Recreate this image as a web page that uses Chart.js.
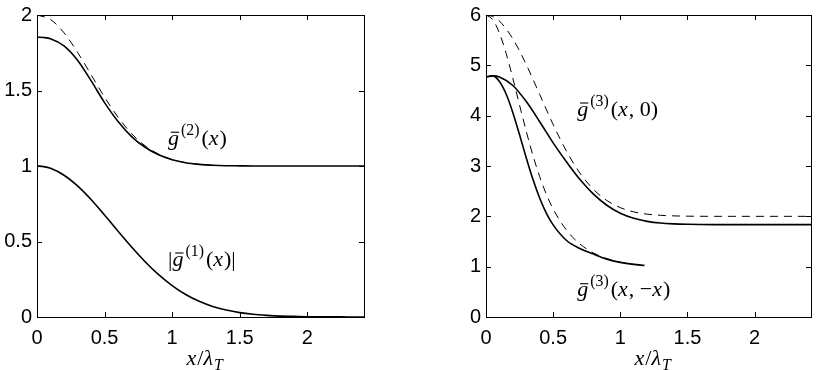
<!DOCTYPE html>
<html>
<head>
<meta charset="utf-8">
<script src="https://cdn.jsdelivr.net/npm/chart.js@4.4.0/dist/chart.umd.min.js"></script>
<style>
body { margin: 0; background: #fff; width: 817px; height: 370px; overflow: hidden; position: relative; }
canvas { position: absolute; top: 0; }
#left { left: 0; }
#right { left: 449px; }
</style>
</head>
<body>
<canvas id="left" width="380" height="370"></canvas>
<canvas id="right" width="368" height="370"></canvas>
<script>
// left panel: first and second order correlations
const xLeft = [0, 0.05, 0.1, 0.2, 0.3, 0.4, 0.5, 0.6, 0.7, 0.8, 0.9, 1.0, 1.1, 1.2, 1.3, 1.4, 1.5, 1.6, 1.7, 1.8, 1.9, 2.0, 2.1, 2.2, 2.3, 2.4, 2.42];
const g1Abs  = [1.0, 0.996, 0.985, 0.939, 0.868, 0.778, 0.675, 0.568, 0.463, 0.366, 0.280, 0.208, 0.149, 0.104, 0.070, 0.046, 0.029, 0.018, 0.011, 0.006, 0.004, 0.002, 0.001, 0.001, 0, 0, 0];
const g2Meas = [1.853, 1.851, 1.843, 1.795, 1.70, 1.565, 1.42, 1.295, 1.195, 1.124, 1.074, 1.042, 1.022, 1.011, 1.005, 1.002, 1.001, 1, 1, 1, 1, 1, 1, 1, 1, 1, 1];
const xLeftIdeal = [0, 0.1, 0.2, 0.3, 0.4, 0.5, 0.6, 0.7, 0.8, 0.9, 1.0, 1.1, 1.2, 1.3];
const g2Ideal    = [2.0, 1.970, 1.882, 1.753, 1.605, 1.456, 1.323, 1.214, 1.134, 1.078, 1.043, 1.022, 1.011, 1.005];

// right panel: third order correlations
const xRight = [0, 0.05, 0.1, 0.2, 0.3, 0.4, 0.5, 0.6, 0.7, 0.8, 0.9, 1.0, 1.1, 1.2, 1.3, 1.4, 1.5, 1.6, 1.7, 1.8, 1.9, 2.0, 2.1, 2.2, 2.3, 2.4, 2.42];
const g3x0Ideal = [6.0, 5.97, 5.880, 5.527, 5.014, 4.42, 3.824, 3.291, 2.857, 2.536, 2.314, 2.173, 2.089, 2.043, 2.020, 2.009, 2.003, 2.001, 2, 2, 2, 2, 2, 2, 2, 2, 2];
const g3x0Meas  = [4.77, 4.79, 4.77, 4.60, 4.28, 3.88, 3.46, 3.08, 2.73, 2.44, 2.22, 2.06, 1.96, 1.90, 1.866, 1.85, 1.842, 1.838, 1.836, 1.836, 1.836, 1.836, 1.836, 1.836, 1.836, 1.836, 1.836];
const xMinus = [0, 0.05, 0.1, 0.15, 0.2, 0.25, 0.3, 0.35, 0.4, 0.45, 0.5, 0.6, 0.7, 0.8, 0.9, 1.0, 1.1, 1.18];
const g3mxIdeal = [6.0, 5.907, 5.64, 5.235, 4.741, 4.209, 3.688, 3.206, 2.787, 2.434, 2.145, 1.724, 1.45, 1.273, 1.16, 1.087, 1.045, 1.026];
const g3mxMeas  = [4.77, 4.79, 4.68, 4.43, 4.06, 3.62, 3.16, 2.73, 2.36, 2.06, 1.83, 1.52, 1.36, 1.25, 1.15, 1.085, 1.045, 1.025];

const xTicksStep = 0.5;
const xMax = 2.42;

function pts(xs, ys) {
    return xs.map((x, i) => ({x: x, y: ys[i]}));
}

// tiny math typesetter: g with bar, superscripts, subscripts, italics
function drawMath(ctx, x, y, parts, size) {
    ctx.fillStyle = '#000';
    ctx.textBaseline = 'alphabetic';
    ctx.textAlign = 'left';
    for (const [t, st] of parts) {
        let fs = size, dy = 0;
        if (st === 's') { fs = size * 0.72; dy = -size * 0.45; }
        if (st === 'sub') { fs = size * 0.72; dy = size * 0.22; }
        const italic = (st === 'i' || st === 'g' || st === 'sub');
        ctx.font = (italic ? 'italic ' : '') + fs + 'px "Liberation Serif", "DejaVu Serif", serif';
        ctx.fillText(t, x, y + dy);
        const w = ctx.measureText(t).width;
        if (st === 'g') {
            ctx.fillRect(x + w * 0.25, y - size * 0.6, w * 0.75, 1.1);
            x += 2;
        }
        if (st === 's') x += 2;
        if (st === 'i') x += 1;
        x += w;
    }
}

const framePlugin = {
    id: 'frame',
    afterDraw(chart) {
        const ctx = chart.ctx;
        const a = chart.chartArea;
        const xs = chart.scales.x, ys = chart.scales.y;
        ctx.save();
        ctx.strokeStyle = '#000';
        ctx.lineWidth = 1;
        ctx.strokeRect(Math.round(a.left) + 0.5, Math.round(a.top) + 0.5, Math.round(a.right - a.left), Math.round(a.bottom - a.top));
        ctx.beginPath();
        xs.ticks.forEach(t => {
            const px = Math.round(xs.getPixelForValue(t.value)) + 0.5;
            ctx.moveTo(px, a.bottom); ctx.lineTo(px, a.bottom - 5);
            ctx.moveTo(px, a.top); ctx.lineTo(px, a.top + 5);
        });
        ys.ticks.forEach(t => {
            const py = Math.round(ys.getPixelForValue(t.value)) + 0.5;
            ctx.moveTo(a.left, py); ctx.lineTo(a.left + 5, py);
            ctx.moveTo(a.right, py); ctx.lineTo(a.right - 5, py);
        });
        ctx.stroke();

        const labels = chart.options.plugins.frame.labels || [];
        labels.forEach(l => {
            drawMath(ctx, xs.getPixelForValue(l.x), ys.getPixelForValue(l.y), l.parts, 22);
        });
        // axis title x / lambda_T
        const cx = (a.left + a.right) / 2 - 14;
        drawMath(ctx, cx, 365, [['x', 'i'], ['/', 'r'], ['λ', 'i'], ['T', 'sub']], 22);
        ctx.restore();
    }
};

function makeChart(id, datasets, yMax, yStep, padRight, labels) {
    const tickFont = {family: '"Liberation Sans", Arial, sans-serif', size: 20, lineHeight: 1};
    return new Chart(document.getElementById(id), {
        type: 'line',
        data: {datasets: datasets},
        options: {
            responsive: false,
            animation: false,
            devicePixelRatio: 1,
            layout: {padding: {left: 0, top: 10, right: padRight, bottom: 0}},
            elements: {point: {radius: 0}, line: {cubicInterpolationMode: 'monotone', borderColor: '#000'}},
            plugins: {legend: {display: false}, tooltip: {enabled: false}, frame: {labels: labels}},
            scales: {
                x: {
                    type: 'linear', min: 0, max: xMax,
                    afterFit(s) { s.height = 53; },
                    grid: {display: false, drawTicks: false},
                    border: {display: false},
                    ticks: {stepSize: xTicksStep, includeBounds: false, color: '#000', font: tickFont, padding: 11, maxRotation: 0, autoSkip: false,
                        callback: v => String(v)}
                },
                y: {
                    min: 0, max: yMax,
                    afterFit(s) { s.width = 37; },
                    grid: {display: false, drawTicks: false},
                    border: {display: false},
                    ticks: {stepSize: yStep, color: '#000', font: tickFont, padding: 5, callback: v => String(v)}
                }
            }
        },
        plugins: [framePlugin]
    });
}

makeChart('left', [
    {data: pts(xLeftIdeal, g2Ideal), borderWidth: 1, borderDash: [8, 6], borderColor: '#000'},
    {data: pts(xLeft, g2Meas), borderWidth: 1.6, borderColor: '#000'},
    {data: pts(xLeft, g1Abs), borderWidth: 1.6, borderColor: '#000'}
], 2, 0.5, 16, [
    {x: 0.97, y: 1.14, parts: [['g', 'g'], ['(2)', 's'], ['(', 'r'], ['x', 'i'], [')', 'r']]},
    {x: 0.97, y: 0.34, parts: [['|', 'r'], ['g', 'g'], ['(1)', 's'], ['(', 'r'], ['x', 'i'], [')', 'r'], ['|', 'r']]}
]);

makeChart('right', [
    {data: pts(xRight, g3x0Ideal), borderWidth: 1, borderDash: [8, 6], borderColor: '#000'},
    {data: pts(xMinus, g3mxIdeal), borderWidth: 1, borderDash: [8, 6], borderColor: '#000'},
    {data: pts(xRight, g3x0Meas), borderWidth: 1.6, borderColor: '#000'},
    {data: pts(xMinus, g3mxMeas), borderWidth: 1.6, borderColor: '#000'}
], 6, 1, 6, [
    {x: 0.68, y: 4.0, parts: [['g', 'g'], ['(3)', 's'], ['(', 'r'], ['x', 'i'], [', 0)', 'r']]},
    {x: 0.68, y: 0.41, parts: [['g', 'g'], ['(3)', 's'], ['(', 'r'], ['x', 'i'], [', −', 'r'], ['x', 'i'], [')', 'r']]}
]);
</script>
</body>
</html>
